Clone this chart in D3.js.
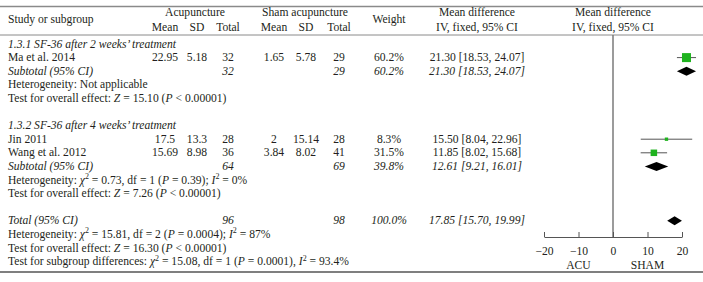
<!DOCTYPE html>
<html lang="en">
<head>
  <meta charset="UTF-8">
  <title>Forest plot</title>
  <script src="https://d3js.org/d3.v7.min.js"></script>
  <style>
    body { margin: 0; background: #fff; }
    text { font-family: "Liberation Serif", "DejaVu Serif", serif; font-size: 11.6px; fill: #231f20; white-space: pre; }
  </style>
</head>
<body>
<script>
  // studies
  const studies = ["Ma et al. 2014", "Jin 2011", "Wang et al. 2012"];
  const studyGroup = [0, 1, 1];
  const acuMean = [22.95, 17.5, 15.69];
  const acuSD = [5.18, 13.3, 8.98];
  const acuN = [32, 28, 36];
  const shamMean = [1.65, 2, 3.84];
  const shamSD = [5.78, 15.14, 8.02];
  const shamN = [29, 28, 41];
  const weights = [60.2, 8.3, 31.5];
  const md = [21.30, 15.50, 11.85];
  const mdLo = [18.53, 8.04, 8.02];
  const mdHi = [24.07, 22.96, 15.68];

  // subgroups
  const groups = ["1.3.1 SF-36 after 2 weeks’ treatment", "1.3.2 SF-36 after 4 weeks’ treatment"];
  const subAcuN = [32, 64];
  const subShamN = [29, 69];
  const subWeight = [60.2, 39.8];
  const subMd = [21.30, 12.61];
  const subLo = [18.53, 9.21];
  const subHi = [24.07, 16.01];
  const subHet = ["Heterogeneity: Not applicable",
                  "Heterogeneity: *χ*^2^ = 0.73, df = 1 (*P* = 0.39); *I*^2^ = 0%"];
  const subTest = ["Test for overall effect: *Z* = 15.10 (*P* < 0.00001)",
                   "Test for overall effect: *Z* = 7.26 (*P* < 0.00001)"];

  // total
  const totalAcuN = 96, totalShamN = 98, totalWeight = 100.0;
  const totalMd = 17.85, totalLo = 15.70, totalHi = 19.99;
  const totalNotes = ["Heterogeneity: *χ*^2^ = 15.81, df = 2 (*P* = 0.0004); *I*^2^ = 87%",
                      "Test for overall effect: *Z* = 16.30 (*P* < 0.00001)",
                      "Test for subgroup differences: *χ*^2^ = 15.08, df = 1 (*P* = 0.0001), *I*^2^ = 93.4%"];

  // axis
  const axisDomain = [-20, 20];
  const axisTicks = [-20, -10, 0, 10, 20];
  const favourLabels = ["ACU", "SHAM"];
  const favourAt = [-10, 10];

  const width = 703, height = 282;
  const svg = d3.select("body").append("svg")
          .attr("width", width)
          .attr("height", height);

  // column x positions
  const col = {label: 8, acuMean: 165, acuSD: 197, acuN: 228, shamMean: 274, shamSD: 306, shamN: 339,
               weight: 389, ci: 477};
  const x = d3.scaleLinear().domain(axisDomain).range([544, 682]);
  const green = "#1fb31f";

  // row layout
  const pitch = 13.6, firstRow = 47.5;
  const rowY = i => firstRow + i * pitch;
  const fmt2 = d3.format(".2f");
  const ciText = (m, l, h) => `${fmt2(m)} [${fmt2(l)}, ${fmt2(h)}]`;

  // simple markup: *italic* and ^superscript^
  function rich(sel, str) {
    const parts = str.split(/(\*[^*]+\*|\^[^^]+\^)/).filter(s => s.length);
    let up = false;
    parts.forEach(p => {
      const t = sel.append("tspan");
      if (p[0] === "^") {
        t.text(p.slice(1, -1)).attr("font-size", 8).attr("dy", -4.5);
        up = true;
        return;
      }
      if (p[0] === "*") t.text(p.slice(1, -1)).attr("font-style", "italic");
      else t.text(p);
      if (up) { t.attr("dy", 4.5); up = false; }
    });
  }

  function txt(xx, y, s, anchor, italic) {
    const t = svg.append("text").attr("x", xx).attr("y", y)
            .attr("text-anchor", anchor || "start");
    if (italic) t.attr("font-style", "italic");
    rich(t, s);
    return t;
  }

  // rules
  svg.append("line").attr("x1", 0).attr("x2", width).attr("y1", 6.5).attr("y2", 6.5)
          .attr("stroke", "#8a8a8a").attr("stroke-width", 1.5);
  svg.append("line").attr("x1", 0).attr("x2", width).attr("y1", 35).attr("y2", 35)
          .attr("stroke", "#8a8a8a").attr("stroke-width", 1);
  svg.append("line").attr("x1", 0).attr("x2", width).attr("y1", 272).attr("y2", 272)
          .attr("stroke", "#555").attr("stroke-width", 1.5);

  // header
  txt(col.label, 23, "Study or subgroup");
  txt(195, 16, "Acupuncture", "middle");
  txt(305, 16, "Sham acupuncture", "middle");
  [["Mean", col.acuMean], ["SD", col.acuSD], ["Total", col.acuN],
   ["Mean", col.shamMean], ["SD", col.shamSD], ["Total", col.shamN]]
          .forEach(([s, cx]) => txt(cx, 31, s, "middle"));
  txt(col.weight, 23, "Weight", "middle");
  txt(col.ci, 16, "Mean difference", "middle");
  txt(col.ci, 31, "IV, fixed, 95% CI", "middle");
  txt(x(0), 16, "Mean difference", "middle");
  txt(x(0), 31, "IV, fixed, 95% CI", "middle");

  // zero line
  svg.append("line").attr("x1", x(0)).attr("x2", x(0)).attr("y1", 35).attr("y2", 237)
          .attr("stroke", "#7a7a7a").attr("stroke-width", 1.5);

  const sqK = 1.16;
  function diamond(y, m, l, h) {
    const half = 4.5;
    svg.append("path")
            .attr("d", `M${x(l)},${y} L${x(m)},${y - half} L${x(h)},${y} L${x(m)},${y + half} Z`)
            .attr("fill", "#000");
  }

  // sections
  let r = 0;
  groups.forEach((g, gi) => {
    txt(col.label, rowY(r++), g, "start", true);
    studies.forEach((s, i) => {
      if (studyGroup[i] !== gi) return;
      const y = rowY(r++);
      txt(col.label, y, s);
      txt(col.acuMean, y, String(acuMean[i]), "middle");
      txt(col.acuSD, y, String(acuSD[i]), "middle");
      txt(col.acuN, y, String(acuN[i]), "middle");
      txt(col.shamMean, y, String(shamMean[i]), "middle");
      txt(col.shamSD, y, String(shamSD[i]), "middle");
      txt(col.shamN, y, String(shamN[i]), "middle");
      txt(col.weight, y, weights[i].toFixed(1) + "%", "middle");
      txt(col.ci, y, ciText(md[i], mdLo[i], mdHi[i]), "middle");
      const cy = y - 3.5;
      svg.append("line").attr("x1", x(mdLo[i])).attr("x2", x(mdHi[i]))
              .attr("y1", cy).attr("y2", cy).attr("stroke", "#555").attr("stroke-width", 1);
      const side = sqK * Math.sqrt(weights[i]);
      svg.append("rect").attr("x", x(md[i]) - side / 2).attr("y", cy - side / 2)
              .attr("width", side).attr("height", side).attr("fill", green);
    });
    const y = rowY(r++);
    txt(col.label, y, "Subtotal (95% CI)", "start", true);
    txt(col.acuN, y, String(subAcuN[gi]), "middle", true);
    txt(col.shamN, y, String(subShamN[gi]), "middle", true);
    txt(col.weight, y, subWeight[gi].toFixed(1) + "%", "middle", true);
    txt(col.ci, y, ciText(subMd[gi], subLo[gi], subHi[gi]), "middle", true);
    diamond(y - 3.5, subMd[gi], subLo[gi], subHi[gi]);
    txt(col.label, rowY(r++), subHet[gi]);
    txt(col.label, rowY(r++), subTest[gi]);
    r++; // blank row
  });

  // total
  const ty = rowY(r++);
  txt(col.label, ty, "Total (95% CI)", "start", true);
  txt(col.acuN, ty, String(totalAcuN), "middle", true);
  txt(col.shamN, ty, String(totalShamN), "middle", true);
  txt(col.weight, ty, totalWeight.toFixed(1) + "%", "middle", true);
  txt(col.ci, ty, ciText(totalMd, totalLo, totalHi), "middle", true);
  diamond(ty - 3.5, totalMd, totalLo, totalHi);
  totalNotes.forEach(s => txt(col.label, rowY(r++), s));

  // axis
  const axisY = 237;
  const axis = svg.append("g").attr("transform", `translate(0,${axisY})`)
          .call(d3.axisBottom(x).tickValues(axisTicks).tickSizeInner(-5).tickSizeOuter(0)
                  .tickPadding(10).tickFormat(d3.format("")));
  axis.select(".domain").attr("stroke", "#555");
  axis.selectAll(".tick line").attr("stroke", "#555");
  axis.selectAll("text").attr("font-family", null).attr("font-size", null).attr("fill", null);

  favourLabels.forEach((s, i) => txt(x(favourAt[i]), 268.5, s, "middle"));
</script>
</body>
</html>
